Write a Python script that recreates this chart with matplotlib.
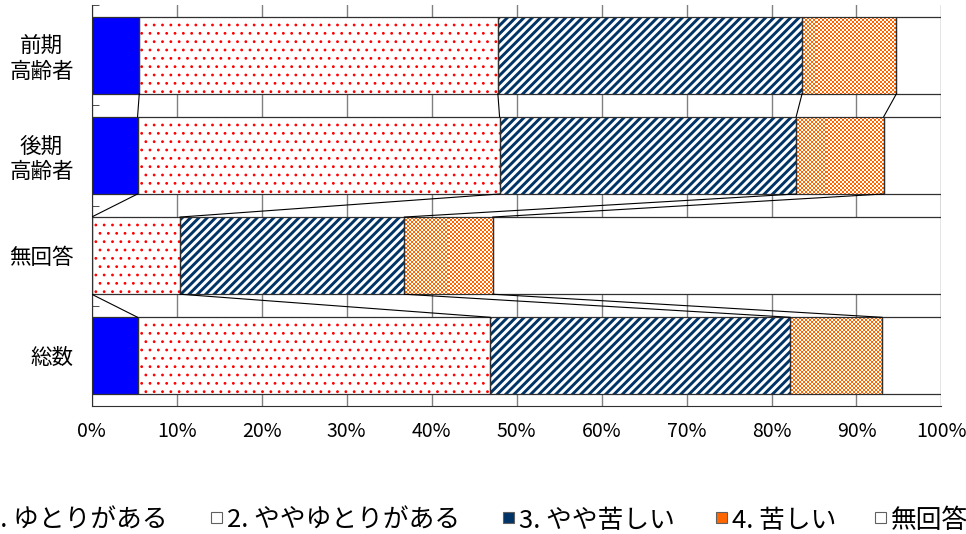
import numpy as np
import matplotlib
matplotlib.use("Agg")
import matplotlib.pyplot as plt
from matplotlib.colors import ListedColormap
from matplotlib.patches import Rectangle

# categories (top to bottom) and percentages per answer
categories = ['前期\n高齢者', '後期\n高齢者', '無回答', '総数']
yutori = [5.6, 5.4, 0.0, 5.4]            # 1. ゆとりがある
yaya_yutori = [42.2, 42.6, 10.4, 41.5]   # 2. ややゆとりがある
yaya_kurushii = [35.8, 34.9, 26.4, 35.3] # 3. やや苦しい
kurushii = [11.1, 10.3, 10.4, 10.8]      # 4. 苦しい
mukaito = [5.3, 6.8, 52.8, 7.0]          # 無回答
legend_labels = ['1. ゆとりがある', '2. ややゆとりがある', '3. やや苦しい', '4. 苦しい', '無回答']
xticks = np.arange(0, 101, 10)

jp = ['Noto Sans CJK JP', 'DejaVu Sans']
navy = '#003366'
orange = '#FF6600'

fig = plt.figure(figsize=(9.66, 5.34), dpi=100)
ax = fig.add_axes([0.0949, 0.2397, 0.8797, 0.7509])

y = np.arange(len(categories))
h = 0.77
series = [yutori, yaya_yutori, yaya_kurushii, kurushii, mukaito]
lefts = np.zeros(len(categories))
cum_ends = []
orange_bars = []
for k, vals in enumerate(series):
    vals = np.array(vals)
    if k == 0:
        ax.barh(y, vals, left=lefts, height=h, color='#0000FF', linewidth=0, zorder=2)
    elif k == 1:
        with plt.rc_context({'hatch.linewidth': 0.8}):
            ax.barh(y, vals, left=lefts, height=h, color='white', hatch='..',
                    edgecolor='#FF0000', linewidth=0, zorder=2)
    elif k == 2:
        with plt.rc_context({'hatch.linewidth': 2.1}):
            ax.barh(y, vals, left=lefts, height=h, color='white', hatch='////',
                    edgecolor=navy, linewidth=0, zorder=2)
    elif k == 3:
        bc = ax.barh(y, vals, left=lefts, height=h, color='white', linewidth=0, zorder=2)
        orange_bars = list(bc.patches)
    else:
        ax.barh(y, vals, left=lefts, height=h, color='white', linewidth=0, zorder=2)
    ax.barh(y, vals, left=lefts, height=h, fill=False, edgecolor='#303030',
            linewidth=0.9, zorder=3)
    lefts = lefts + vals
    cum_ends.append(lefts.copy())

# checkered texture for 4. 苦しい
nx, ny = 425, 200
checker = np.indices((ny, nx)).sum(axis=0) % 2
for p in orange_bars:
    im = ax.imshow(checker, cmap=ListedColormap([orange, 'white']), extent=(0, 100, 3.5, -0.5),
                   aspect='auto', interpolation='nearest', zorder=2.5)
    im.set_clip_path(p)

# series lines between bars
for ends in cum_ends:
    for i in range(len(categories) - 1):
        ax.plot([ends[i], ends[i + 1]], [y[i] + h / 2, y[i + 1] - h / 2],
                color='black', linewidth=0.8, zorder=3)

ax.set_xlim(0, 100)
ax.set_ylim(3.5, -0.5)
ax.set_xticks(xticks)
ax.set_xticklabels([f'{v}%' for v in xticks], fontsize=14, family=jp)
ax.tick_params(axis='x', length=0, pad=11)
ax.grid(axis='x', color='#808080', linewidth=1.0, zorder=0.5)
ax.set_axisbelow(True)

ax.set_yticks(y)
ax.set_yticklabels(categories, fontsize=15.5, family=jp, multialignment='center', linespacing=1.2)
ax.set_yticks(np.arange(-0.5, len(categories), 1), minor=True)
ax.tick_params(axis='y', which='major', length=0, pad=13)
ax.tick_params(axis='y', which='minor', direction='in', length=5, color='#303030')

for s in ['top', 'right']:
    ax.spines[s].set_visible(False)
ax.spines['left'].set_color('#303030')
ax.spines['bottom'].set_color('#303030')

# legend drawn by hand so the first entry runs off the left edge like the original
W, H = 966.0, 534.0
leg_x = [-30, 211, 503, 716, 875]
marker_faces = ['#0000FF', 'white', navy, orange, 'white']
for lx, lab, fc in zip(leg_x, legend_labels, marker_faces):
    fig.patches.append(Rectangle((lx / W, 1 - 523 / H), 11 / W, 11 / H, transform=fig.transFigure,
                                 facecolor=fc, edgecolor='#606060', linewidth=0.8))
    fig.text((lx + 16) / W, 1 - 528 / H, lab, fontsize=18.5, family=jp, va='baseline', ha='left')

fig.savefig('out.png', dpi=100)
